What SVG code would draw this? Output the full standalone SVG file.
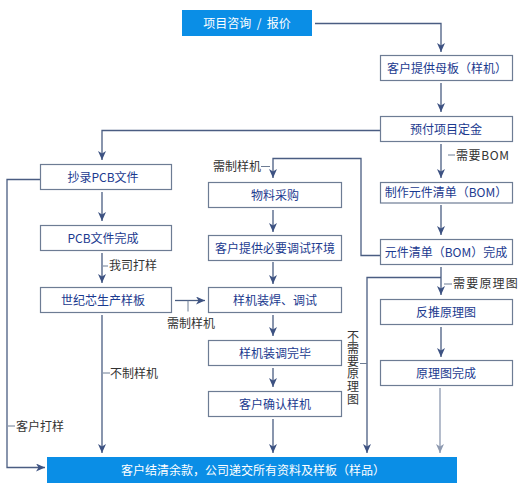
<svg xmlns="http://www.w3.org/2000/svg" width="523" height="497" viewBox="0 0 523 497">
<defs>
<style>
.box{fill:#fff;stroke:#6d7c94;stroke-width:1.2}
.hl{fill:#0a8ee6}
.bt{font-family:"Noto Sans CJK SC","Liberation Sans",sans-serif;font-size:12px;fill:#1b3a8f;text-anchor:middle}
.wt{font-family:"Noto Sans CJK SC","Liberation Sans",sans-serif;font-size:12px;fill:#fff;text-anchor:middle}
.lb{font-family:"Noto Sans CJK SC","Liberation Sans",sans-serif;font-size:12px;fill:#333}
.c{fill:none;stroke:#4a5d82;stroke-width:1.3}
.cl{fill:none;stroke:#8d99b0;stroke-width:1.3}
.t{fill:none;stroke:#6d7c94;stroke-width:1}
</style>
<marker id="a" viewBox="0 0 9 8" refX="9" refY="4" markerWidth="9" markerHeight="8" markerUnits="userSpaceOnUse" orient="auto">
<path d="M0,0 L9,4 L0,8 L2.5,4 z" fill="#3d5282"/>
</marker>
<marker id="al" viewBox="0 0 9 8" refX="9" refY="4" markerWidth="9" markerHeight="8" markerUnits="userSpaceOnUse" orient="auto">
<path d="M0,0 L9,4 L0,8 L2.5,4 z" fill="#8d99b0"/>
</marker>
</defs>
<rect width="523" height="497" fill="#fff"/>
<g id="connectors">
<path class="c" d="M315,23.5 H441 V52" marker-end="url(#a)"/>
<path class="c" d="M441,83 V112" marker-end="url(#a)"/>
<path class="c" d="M380,130.5 H102 V160" marker-end="url(#a)"/>
<path class="c" d="M441,144 V178" marker-end="url(#a)"/>
<path class="t" d="M448,155 H455"/>
<path class="c" d="M441,205 V235" marker-end="url(#a)"/>
<path class="c" d="M380,255.5 H361 V158.5 H273 V178" marker-end="url(#a)"/>
<path class="t" d="M261,166.5 H270"/>
<path class="c" d="M273,210 V232" marker-end="url(#a)"/>
<path class="c" d="M273,262 V284" marker-end="url(#a)"/>
<path class="c" d="M273,315 V336" marker-end="url(#a)"/>
<path class="c" d="M273,368 V387" marker-end="url(#a)"/>
<path class="c" d="M273,419 V453" marker-end="url(#a)"/>
<path class="c" d="M441,267 V295" marker-end="url(#a)"/>
<path class="t" d="M444,284 H452"/>
<path class="c" d="M441,277.5 H367 V453" marker-end="url(#a)"/>
<path class="t" d="M360,363.5 H367"/>
<path class="c" d="M441,327 V357" marker-end="url(#a)"/>
<path class="cl" d="M440,388 V453" marker-end="url(#al)"/>
<path class="c" d="M102,192 V221" marker-end="url(#a)"/>
<path class="c" d="M102,253 V283" marker-end="url(#a)"/>
<path class="t" d="M103,266 H108"/>
<path class="c" d="M175,300.5 H205" marker-end="url(#a)"/>
<path class="t" d="M188,300.5 V311.5"/>
<path class="c" d="M102,315 V453" marker-end="url(#a)"/>
<path class="t" d="M103,373 H110"/>
<path class="c" d="M40,179.5 H7 V467.5 H45" marker-end="url(#a)"/>
<path class="t" d="M8,426 H15"/>
</g>
<g id="labels">
<text class="lb" x="456" y="159.5" letter-spacing="0.6">需要BOM</text>
<text class="lb" x="213" y="171">需制样机</text>
<text class="lb" x="453" y="288" letter-spacing="1.2">需要原理图</text>
<text class="lb" x="109" y="270">我司打样</text>
<text class="lb" x="167" y="328">需制样机</text>
<text class="lb" x="110" y="377.5">不制样机</text>
<text class="lb" x="16" y="430.5">客户打样</text>
<text class="lb" x="353" y="330" writing-mode="vertical-rl" letter-spacing="0.6">不需要原理图</text>
</g>
<g id="n1"><rect class="hl" x="182" y="10" width="130" height="26"/><text class="wt" x="247" y="27.5" xml:space="preserve">项目咨询  /  报价</text></g>
<g id="n2"><rect class="box" x="380.5" y="55.5" width="132" height="25"/><text class="bt" x="447" y="72.5">客户提供母板（样机）</text></g>
<g id="n3"><rect class="box" x="380.5" y="116.5" width="132" height="25"/><text class="bt" x="446" y="133.5">预付项目定金</text></g>
<g id="n4"><rect class="box" x="380.5" y="182.5" width="132" height="20.5"/><text class="bt" x="446" y="197">制作元件清单（BOM）</text></g>
<g id="n5"><rect class="box" x="380.5" y="239.5" width="132" height="25"/><text class="bt" x="446" y="256.5">元件清单（BOM）完成</text></g>
<g id="n6"><rect class="box" x="380.5" y="299.5" width="132" height="25"/><text class="bt" x="446" y="316.5">反推原理图</text></g>
<g id="n7"><rect class="box" x="380.5" y="360.5" width="132" height="25"/><text class="bt" x="446" y="377.5">原理图完成</text></g>
<g id="n8"><rect class="box" x="40.5" y="164.5" width="131" height="25"/><text class="bt" x="103" y="181.5">抄录PCB文件</text></g>
<g id="n9"><rect class="box" x="40.5" y="225.5" width="131" height="25"/><text class="bt" x="103" y="242.5">PCB文件完成</text></g>
<g id="n10"><rect class="box" x="40.5" y="287.5" width="131" height="25"/><text class="bt" x="103" y="304.5">世纪芯生产样板</text></g>
<g id="n11"><rect class="box" x="208.5" y="182.5" width="133" height="25"/><text class="bt" x="275" y="199.5">物料采购</text></g>
<g id="n12"><rect class="box" x="208.5" y="235.5" width="133" height="25"/><text class="bt" x="275" y="252.5">客户提供必要调试环境</text></g>
<g id="n13"><rect class="box" x="208.5" y="287.5" width="133" height="25"/><text class="bt" x="275" y="304.5">样机装焊、调试</text></g>
<g id="n14"><rect class="box" x="208.5" y="340.5" width="133" height="25"/><text class="bt" x="275" y="357.5">样机装调完毕</text></g>
<g id="n15"><rect class="box" x="208.5" y="391.5" width="133" height="25"/><text class="bt" x="275" y="408.5">客户确认样机</text></g>
<g id="n16"><rect class="hl" x="47" y="457" width="410" height="26"/><text class="wt" x="253" y="474.5">客户结清余款，公司递交所有资料及样板（样品）</text></g>
</svg>
